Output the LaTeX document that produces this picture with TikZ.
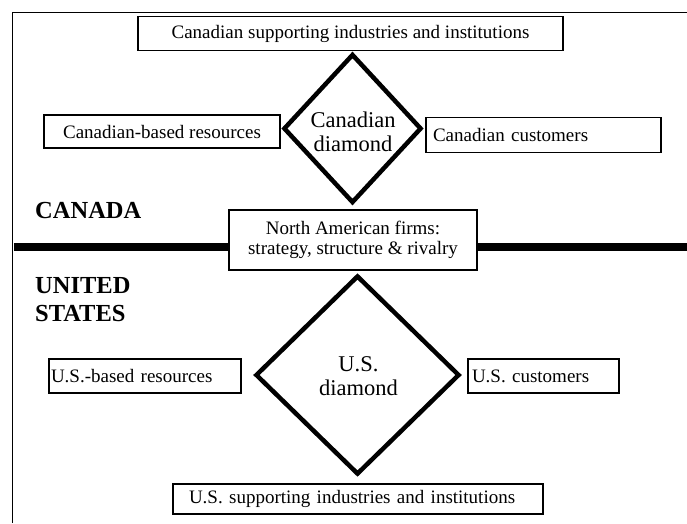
\documentclass[tikz,border=0pt]{standalone}
\usepackage{fontspec}
\setmainfont{Liberation Serif}
\usetikzlibrary{shapes.geometric}
\begin{document}
\begin{tikzpicture}[x=1pt,y=-1pt,
  box/.style={draw, line width=1.3pt, fill=white, inner ysep=0pt, inner xsep=0pt,
    font=\fontsize{19}{20}\selectfont, align=center},
  lbox/.style={box, align=left},
  dia/.style={diamond, draw, line width=4.5pt, inner sep=0pt},
  diatext/.style={inner sep=0pt, align=center, font=\fontsize{22.5}{24}\selectfont},
  country/.style={inner sep=0pt, align=left, font=\fontsize{24.5}{28}\selectfont\bfseries},
  sep/.style={line width=8pt},
  frame/.style={line width=1pt}
]
\useasboundingbox (0,0) rectangle (687,523);
\fill[white] (0,0) rectangle (687,523);

% frame
\coordinate (fbl) at (12,523);
\coordinate (ftl) at (12,12);
\coordinate (ftr) at (687,12);
\draw[frame] (fbl) -- (ftl) -- (ftr);

% separator line coordinates
\coordinate (sepL) at (14,247);
\coordinate (sepR) at (687,247);

% Canadian diamond
\node[dia, minimum width=138pt, minimum height=149pt] (candia) at (352.5,128.5) {};
\node[diatext] (candiatext) at (353,131.8) {Canadian\\diamond};

% US diamond
\node[dia, minimum width=204pt, minimum height=199pt] (usdia) at (357.5,375) {};
\node[diatext] (usdiatext) at (358.5,376) {U.S.\\diamond};

% boxes
\node[box, minimum width=425pt, minimum height=33.5pt] (topbox) at (350.5,33.5)
  {Canadian supporting industries and institutions};
\node[box, minimum width=236pt, minimum height=33pt] (canres) at (162,131.5)
  {Canadian-based resources};
\node[lbox, inner xsep=7pt, text width=221pt, minimum height=34.5pt] (cancust) at (543.5,135)
  {Canadian customers};
\node[box, minimum width=248pt, minimum height=60pt] (midbox) at (353,240)
  {North American firms:\\strategy, structure \& rivalry};
\node[lbox, inner xsep=2pt, text width=188pt, minimum height=34pt] (usres) at (145,376)
  {U.S.-based resources};
\node[lbox, inner xsep=4pt, text width=143pt, minimum height=34pt] (uscust) at (543.5,376)
  {U.S. customers};
\node[lbox, inner xsep=16pt, text width=338pt, minimum height=30pt] (botbox) at (358,499)
  {U.S. supporting industries and institutions};

% separator
\draw[sep] (sepL) -- (sepL -| midbox.west);
\draw[sep] (midbox.east |- sepR) -- (sepR);

% country labels
\node[country, anchor=base west] (canada) at (35,218) {CANADA};
\node[country, anchor=north west] (usa) at (35,277.5) {UNITED\\STATES};
\end{tikzpicture}
\end{document}
